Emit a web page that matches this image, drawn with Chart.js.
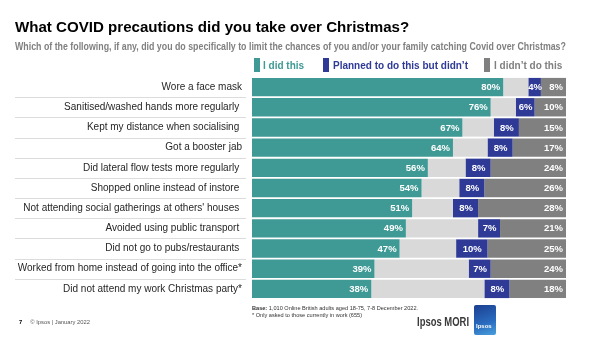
<!DOCTYPE html>
<html>
<head>
<meta charset="utf-8">
<script src="https://cdn.jsdelivr.net/npm/chart.js@4/dist/chart.umd.min.js"></script>
<style>
  html, body { margin: 0; padding: 0; background: #fff; }
  body { width: 602px; height: 338px; position: relative; overflow: hidden;
         font-family: "Liberation Sans", Arial, sans-serif; }
  #wrap { position: absolute; left: 0; top: 0; width: 602px; height: 338px; }
  .abs { position: absolute; white-space: nowrap; }
  #title { left: 15px; top: 18px; font-size: 15.1px; font-weight: bold; color: #000; }
  #subtitle { left: 15px; top: 41px; font-size: 10px; font-weight: bold; color: #808080;
              transform-origin: 0 0; }
  .lg-box { position: absolute; width: 6px; height: 14px; top: 58px; }
  .lg-txt { position: absolute; top: 60px; font-size: 10px; font-weight: bold; line-height: 12px; }
  #base { left: 252px; top: 305px; font-size: 5.6px; color: #333; line-height: 6.5px; }
  #foot { left: 19px; top: 319px; font-size: 5.8px; color: #555; }
  #brand { left: 417px; top: 315px; font-size: 12px; font-weight: bold; color: #3a3a3a;
           transform-origin: 0 0; }
  #logo { left: 474px; top: 305px; width: 22px; height: 30px; border-radius: 2px;
          background: linear-gradient(160deg, #1c3f8f 0%, #2a6cc0 60%, #4aa0dc 100%); }
  #logo span { position: absolute; left: 2px; bottom: 6px; font-size: 6px; color: #fff; font-weight: bold; }
</style>
</head>
<body>
<div id="wrap"><canvas id="chart" width="602" height="338"></canvas></div>

<div id="title" class="abs">What COVID precautions did you take over Christmas?</div>
<div id="subtitle" class="abs">Which of the following, if any, did you do specifically to limit the chances of you and/or your family catching Covid over Christmas?</div>

<div class="lg-box" style="left:254px;background:#3f9995"></div>
<div class="lg-txt abs" style="left:263px;color:#3f9995">I did this</div>
<div class="lg-box" style="left:323px;background:#2e3a96"></div>
<div class="lg-txt abs" style="left:333px;color:#2e3a96">Planned to do this but didn’t</div>
<div class="lg-box" style="left:484px;background:#808080"></div>
<div class="lg-txt abs" style="left:494px;color:#808080">I didn’t do this</div>

<div id="base" class="abs"><b>Base:</b> 1,010 Online British adults aged 18-75, 7-8 December 2022.<br>* Only asked to those currently in work (655)</div>
<div id="foot" class="abs"><b style="color:#000">7</b>&nbsp;&nbsp;&nbsp;&nbsp; © Ipsos | January 2022</div>
<div id="brand" class="abs">Ipsos MORI</div>
<div id="logo" class="abs"><span>Ipsos</span></div>

<script>
// Precautions asked about, top to bottom
const categories = [
  "Wore a face mask",
  "Sanitised/washed hands more regularly ",
  "Kept my distance when socialising ",
  "Got a booster jab",
  "Did lateral flow tests more regularly ",
  "Shopped online instead of instore ",
  "Not attending social gatherings at others' houses ",
  "Avoided using public transport ",
  "Did not go to pubs/restaurants ",
  "Worked from home instead of going into the office*",
  "Did not attend my work Christmas party*"
];

// Percentages per answer
const didThis      = [80, 76, 67, 64, 56, 54, 51, 49, 47, 39, 38];
const notStated    = [ 8,  8, 10, 11, 12, 12, 13, 23, 18, 30, 36];
const plannedNot   = [ 4,  6,  8,  8,  8,  8,  8,  7, 10,  7,  8];
const didNotDo     = [ 8, 10, 15, 17, 24, 26, 28, 21, 25, 24, 18];

const seriesNames = ["I did this", "", "Planned to do this but didn’t", "I didn’t do this"];

const TEAL = "#3f9995", LIGHT = "#d9d9d9", BLUE = "#2e3a96", GREY = "#808080";

// Fit the subtitle and wordmark to their condensed widths
(function () {
  const sub = document.getElementById("subtitle");
  sub.style.transform = "scaleX(" + (551 / sub.offsetWidth) + ")";
  const brand = document.getElementById("brand");
  brand.style.transform = "scaleX(" + (52 / brand.offsetWidth) + ")";
})();

// Thin rules between the category labels
const rowRules = {
  id: "rowRules",
  afterDraw(chart) {
    const y = chart.scales.y, ctx = chart.ctx;
    ctx.save();
    ctx.strokeStyle = "#dcdcdc";
    ctx.lineWidth = 1;
    for (let i = 1; i < categories.length; i++) {
      const py = Math.round((y.getPixelForValue(i - 1) + y.getPixelForValue(i)) / 2) + 0.5;
      ctx.beginPath();
      ctx.moveTo(15, py);
      ctx.lineTo(246, py);
      ctx.stroke();
    }
    ctx.restore();
  }
};

// Percentage labels inside the segments
const valueLabels = {
  id: "valueLabels",
  afterDatasetsDraw(chart) {
    const ctx = chart.ctx;
    ctx.save();
    ctx.fillStyle = "#fff";
    ctx.font = "bold 9.5px 'Liberation Sans', Arial, sans-serif";
    ctx.textBaseline = "middle";
    chart.data.datasets.forEach((ds, di) => {
      if (di === 1) return;
      const meta = chart.getDatasetMeta(di);
      meta.data.forEach((el, i) => {
        const v = ds.data[i];
        const txt = v + "%";
        if (di === 2) {
          ctx.textAlign = "center";
          ctx.fillText(txt, (el.x + el.base) / 2 + 0.5, el.y + 0.5);
        } else {
          ctx.textAlign = "right";
          ctx.fillText(txt, el.x - 3, el.y + 0.5);
        }
      });
    });
    ctx.restore();
  }
};

new Chart(document.getElementById("chart"), {
  type: "bar",
  data: {
    labels: categories,
    datasets: [
      { label: seriesNames[0], data: didThis,    backgroundColor: TEAL },
      { label: seriesNames[1], data: notStated,  backgroundColor: LIGHT },
      { label: seriesNames[2], data: plannedNot, backgroundColor: BLUE },
      { label: seriesNames[3], data: didNotDo,   backgroundColor: GREY }
    ]
  },
  options: {
    indexAxis: "y",
    responsive: false,
    animation: false,
    events: [],
    layout: { padding: { left: 0, right: 36, top: 77, bottom: 39 } },
    datasets: { bar: { categoryPercentage: 1, barPercentage: 0.91, borderWidth: 0 } },
    plugins: { legend: { display: false }, tooltip: { enabled: false } },
    scales: {
      x: { stacked: true, min: 0, max: 100, display: false },
      y: {
        stacked: true,
        border: { display: false },
        grid: { display: false, drawTicks: false },
        afterFit(scale) { scale.width = 252; },
        ticks: {
          padding: 10,
          color: "#262626",
          font: { family: "'Liberation Sans', Arial, sans-serif", size: 10 }
        }
      }
    }
  },
  plugins: [rowRules, valueLabels]
});
</script>
</body>
</html>
